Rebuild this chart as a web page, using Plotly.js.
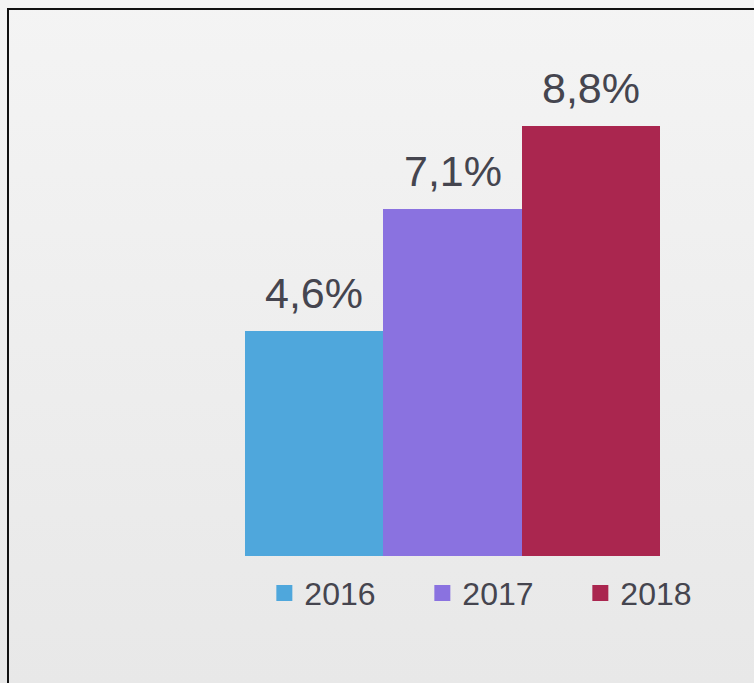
<!DOCTYPE html>
<html>
<head>
<meta charset="utf-8">
<script src="https://cdn.plot.ly/plotly-3.0.1.min.js"></script>
<style>
  html, body { margin: 0; padding: 0; overflow: hidden; }
  #wrap { position: relative; width: 754px; height: 683px; background: linear-gradient(#f4f4f4, #e8e8e8); overflow: hidden; }
  #frame { position: absolute; left: 7px; top: 8px; width: 820px; height: 760px; border: 2px solid #111; box-sizing: border-box; pointer-events: none; }
  #chart { position: absolute; left: 0; top: 0; width: 754px; height: 683px; }
</style>
</head>
<body>
<div id="wrap">
  <div id="chart"></div>
  <div id="frame"></div>
</div>
<script>
const years = ['2016', '2017', '2018'];
const values = [4.6, 7.1, 8.8];
const colors = ['#4fa7dc', '#8a72e0', '#aa264f'];

const fontFamily = '"Liberation Sans", Arial, sans-serif';
const textColor = '#45454f';

const barTraces = years.map((yr, i) => ({
  type: 'bar',
  name: yr,
  x: [yr],
  y: [values[i]],
  marker: { color: colors[i], line: { width: 0 } },
  showlegend: false,
  hoverinfo: 'skip'
}));

// legend proxies (larger square swatches, no data drawn)
const legendTraces = years.map((yr, i) => ({
  type: 'scatter',
  mode: 'markers',
  name: yr,
  x: [null],
  y: [null],
  marker: { symbol: 'square', size: 16, color: colors[i] },
  showlegend: true,
  hoverinfo: 'skip'
}));

const annotations = years.map((yr, i) => ({
  x: i,
  y: values[i],
  xref: 'x',
  yref: 'y',
  text: values[i].toFixed(1).replace('.', ',') + '%',
  showarrow: false,
  yanchor: 'bottom',
  yshift: 12,
  font: { family: fontFamily, size: 43, color: textColor }
}));

const layout = {
  width: 754,
  height: 683,
  margin: { l: 245, r: 0, t: 67, b: 127, pad: 0 },
  paper_bgcolor: 'rgba(0,0,0,0)',
  plot_bgcolor: 'rgba(0,0,0,0)',
  barmode: 'overlay',
  bargap: 0,
  xaxis: { visible: false, type: 'category', categoryarray: years, range: [-0.5, 3.1795], fixedrange: true },
  yaxis: { visible: false, range: [0, 10], fixedrange: true },
  showlegend: true,
  legend: {
    orientation: 'h',
    x: 0.038,
    xanchor: 'left',
    y: -0.076,
    yanchor: 'middle',
    entrywidth: 113,
    entrywidthmode: 'pixels',
    font: { family: fontFamily, size: 32, color: textColor },
    bgcolor: 'rgba(0,0,0,0)',
    itemclick: false,
    itemdoubleclick: false
  },
  annotations: annotations
};

Plotly.newPlot('chart', barTraces.concat(legendTraces), layout, { staticPlot: true, displayModeBar: false });
</script>
</body>
</html>
